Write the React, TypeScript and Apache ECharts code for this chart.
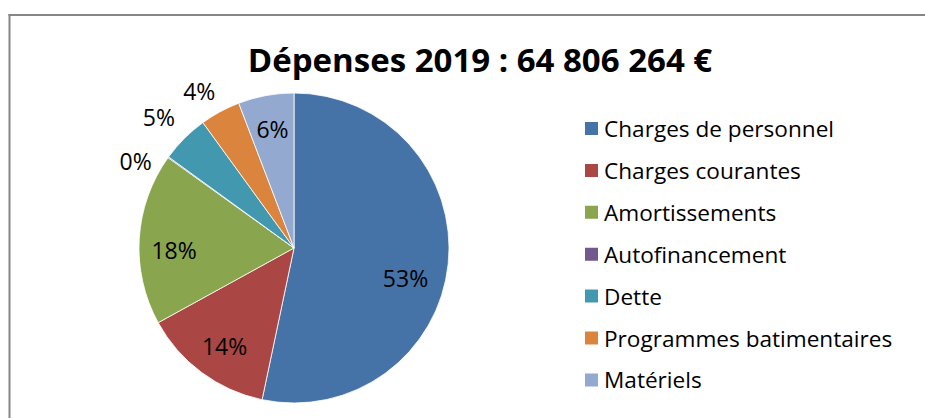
import React, { useEffect, useRef } from "react";
import * as echarts from "echarts";

const TITLE = "Dépenses 2019 : 64 806 264 €";
const categories = [
  "Charges de personnel",
  "Charges courantes",
  "Amortissements",
  "Autofinancement",
  "Dette",
  "Programmes batimentaires",
  "Matériels",
];
// share of total spending, in percent
const shares = [53.3, 13.7, 17.9, 0.1, 5.0, 4.2, 5.8];
const colors = ["#4572A7", "#AA4643", "#89A54E", "#71588F", "#4198AF", "#DB843D", "#93A9CF"];
// label placement (fraction of radius, angular nudge in degrees)
const labelRadius = [0.745, 0.774, 0.774, 1.166, 1.216, 1.185, 0.78];
const labelNudge = [9.1, -1.2, -4.4, -7, -0.8, -2.6, 0.2];

const CX = 294;
const CY = 248;
const R = 155;

export default function App() {
  const ref = useRef<HTMLDivElement>(null);
  useEffect(() => {
    if (!ref.current) return;
    document.documentElement.style.overflow = "hidden";
    document.body.style.margin = "0";
    const chart = echarts.init(ref.current, undefined, { renderer: "svg" });
    const total = shares.reduce((a, b) => a + b, 0);
    const font = "'Open Sans', sans-serif";
    chart.setOption({
      animation: false,
      color: colors,
      title: {
        text: TITLE,
        left: 475,
        textAlign: "center",
        top: 34,
        textStyle: { fontFamily: font, fontSize: 33, fontWeight: "bold", color: "#000", lineHeight: 40 },
      },
      legend: {
        orient: "vertical",
        left: 583,
        top: 117,
        padding: 0,
        itemWidth: 15,
        itemHeight: 15,
        itemGap: 18.9,
        icon: "rect",
        data: categories,
        textStyle: { fontFamily: font, fontSize: 22.6, lineHeight: 22, color: "#000" },
      },
      graphic: [
        {
          type: "rect",
          shape: { x: 8.5, y: 14, width: 920, height: 2 },
          style: { fill: "#868686" },
          silent: true,
        },
        {
          type: "rect",
          shape: { x: 8.5, y: 14, width: 2, height: 410 },
          style: { fill: "#868686" },
          silent: true,
        },
      ],
      series: [
        {
          type: "pie",
          center: [CX, CY],
          radius: [0, R],
          startAngle: 90,
          clockwise: true,
          avoidLabelOverlap: false,
          itemStyle: { borderColor: "#ffffff", borderWidth: 0.8 },
          label: {
            show: true,
            position: "inside",
            fontFamily: font,
            fontSize: 23,
            color: "#000",
            formatter: (p: any) => Math.round(p.percent) + "%",
          },
          labelLine: { show: false },
          emphasis: { disabled: true },
          labelLayout: (p: any) => {
            const i = p.dataIndex;
            let cum = 0;
            for (let k = 0; k < i; k++) cum += shares[k];
            const mid = ((cum + shares[i] / 2) / total) * 360 + labelNudge[i];
            const rad = (mid * Math.PI) / 180;
            const r = labelRadius[i] * R;
            return {
              x: CX + r * Math.sin(rad),
              y: CY - r * Math.cos(rad),
              align: "center",
              verticalAlign: "middle",
            };
          },
          data: categories.map((name, i) => ({ name, value: shares[i] })),
        },
      ],
    });
    return () => chart.dispose();
  }, []);
  return (
    <div
      ref={ref}
      style={{ position: "absolute", left: 0, top: 0, width: 925, height: 418, background: "#fff" }}
    />
  );
}
